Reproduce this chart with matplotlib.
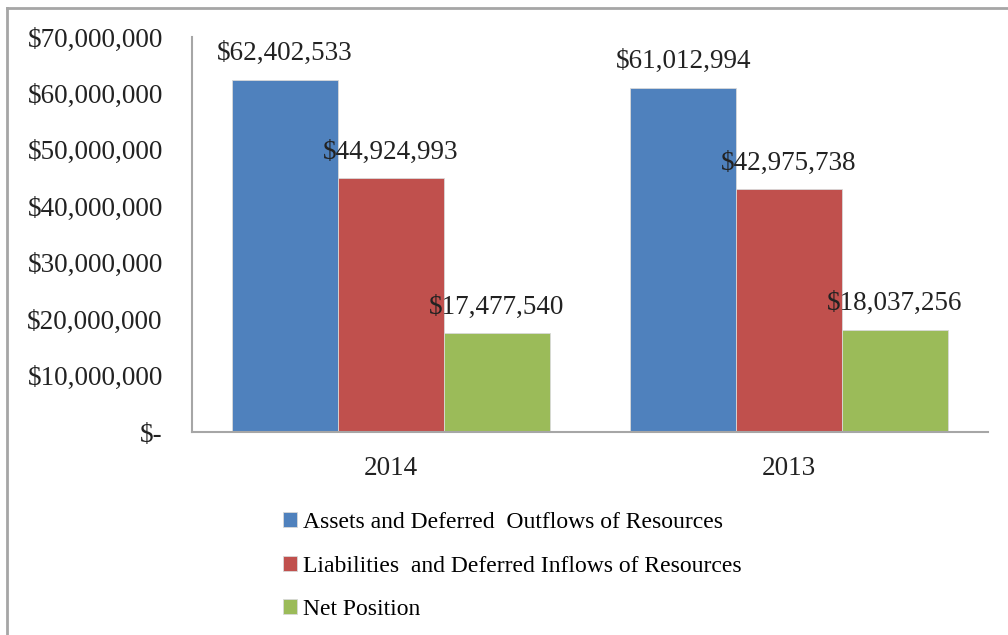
import numpy as np
import matplotlib
matplotlib.use("Agg")
import matplotlib.pyplot as plt
from matplotlib.ticker import FuncFormatter, MultipleLocator
from matplotlib.lines import Line2D

years = ["2014", "2013"]
series_names = ["Assets and Deferred  Outflows of Resources",
                "Liabilities  and Deferred Inflows of Resources",
                "Net Position"]
assets = [62402533, 61012994]
liabilities = [44924993, 42975738]
net_position = [17477540, 18037256]
colors = ["#4F81BD", "#C0504D", "#9BBB59"]

plt.rcParams['font.family'] = ['Liberation Serif', 'DejaVu Serif']

fig = plt.figure(figsize=(10.08, 6.35), dpi=100)
ax = fig.add_axes([192/1008, 1 - 432/635, (988 - 192)/1008, (432 - 37)/635])

x = np.arange(len(years))
width = 0.266
values = [assets, liabilities, net_position]
for i, (vals, name, c) in enumerate(zip(values, series_names, colors)):
    bars = ax.bar(x + (i - 1) * width, vals, width, color=c, label=name,
                  edgecolor="#d9d9d9", linewidth=0.6)
    for b, v in zip(bars, vals):
        ax.annotate(f"${v:,.0f}", (b.get_x() + b.get_width() / 2, v),
                    xytext=(0, 19), textcoords="offset points",
                    ha="center", va="center", fontsize=19.5, color="#222222")

ax.set_xlim(-0.5, 1.5)
ax.set_ylim(0, 70000000)
ax.yaxis.set_major_locator(MultipleLocator(10000000))
ax.yaxis.set_major_formatter(FuncFormatter(lambda v, p: "$-" if v == 0 else f"${v:,.0f}"))
ax.set_xticks(x)
ax.set_xticklabels(years)
ax.tick_params(axis="both", length=0, labelsize=19.5, colors="#222222")
ax.tick_params(axis="y", pad=21)
ax.tick_params(axis="x", pad=17)
for s in ["top", "right"]:
    ax.spines[s].set_visible(False)
for s in ["left", "bottom"]:
    ax.spines[s].set_color("#A6A6A6")
    ax.spines[s].set_linewidth(1.5)

ax.legend(loc="center left", bbox_to_anchor=(283/1008, 1 - 566/635),
          bbox_transform=fig.transFigure, frameon=False, fontsize=17,
          handlelength=0.6, handleheight=0.6, handletextpad=0.25,
          labelspacing=0.95, borderpad=0, borderaxespad=0)

# chart border (only top and left visible in the crop)
fig.add_artist(Line2D([7/1008, 1], [1 - 8/635, 1 - 8/635], transform=fig.transFigure,
                      color="#A6A6A6", linewidth=2))
fig.add_artist(Line2D([7/1008, 7/1008], [0, 1 - 8/635], transform=fig.transFigure,
                      color="#A6A6A6", linewidth=2))

fig.savefig("out.png", dpi=100)
